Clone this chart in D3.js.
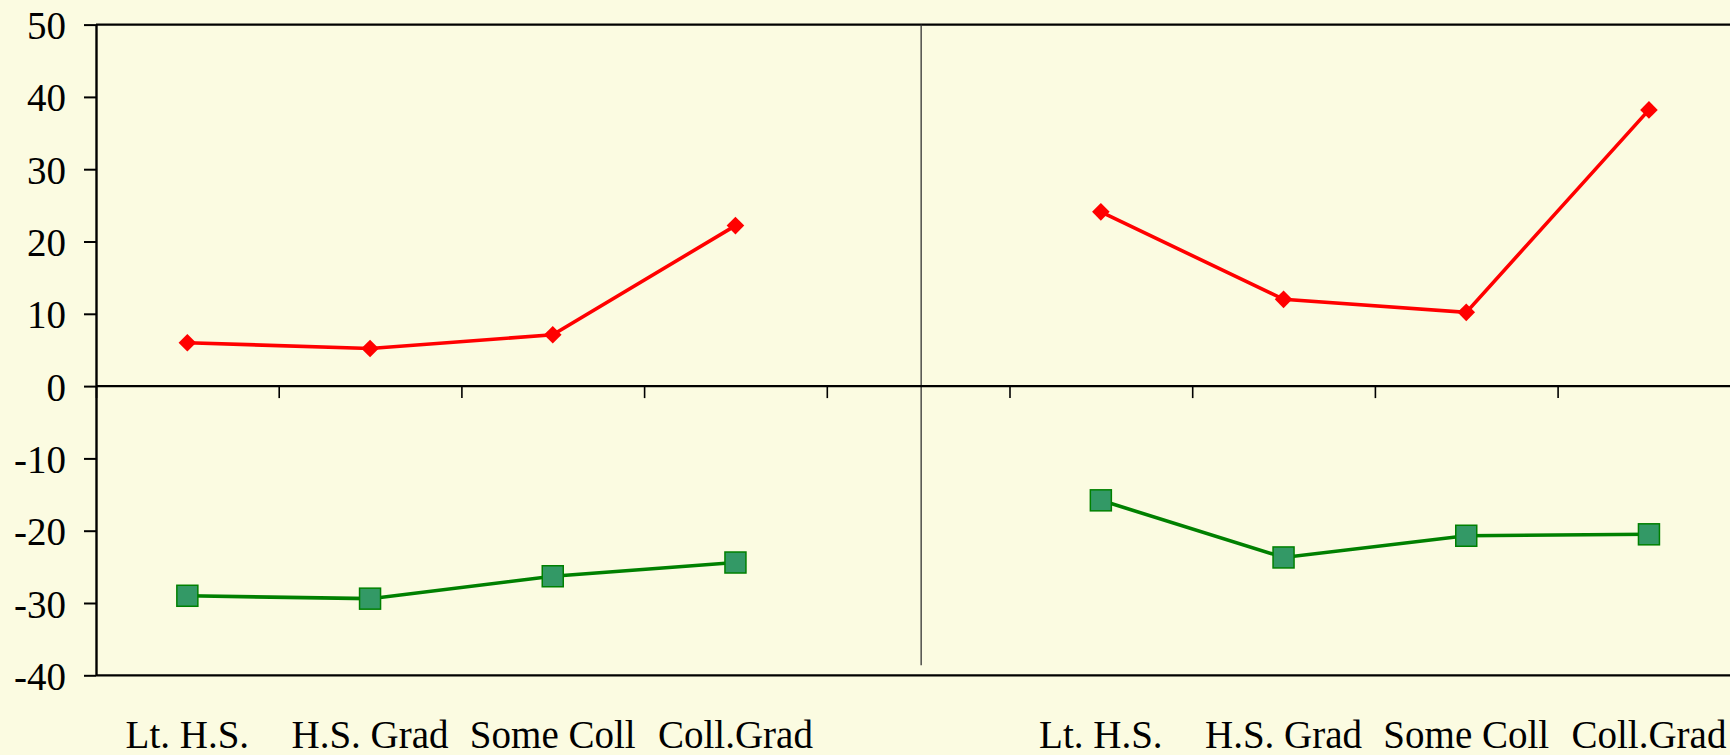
<!DOCTYPE html>
<html>
<head>
<meta charset="utf-8">
<script src="https://cdn.jsdelivr.net/npm/d3@7"></script>
<style>
	body { margin: 0; background: #fbfbe1; }
	svg { display: block; font-family: "Liberation Serif", "Times New Roman", serif; }
	.axis text { font-size: 39px; fill: #000; font-family: "Liberation Serif", "Times New Roman", serif; }
	.axis line, .axis path { stroke: #000; }
</style>
</head>
<body>
<div id="chart"></div>
<script>
const categories = ["Lt. H.S.", "H.S. Grad", "Some Coll", "Coll.Grad"];
const redLeft = [6.0, 5.2, 7.1, 22.2];
const greenLeft = [-29.0, -29.4, -26.3, -24.4];
const redRight = [24.1, 12.0, 10.2, 38.2];
const greenRight = [-15.8, -23.7, -20.7, -20.5];
const yTicks = [50, 40, 30, 20, 10, 0, -10, -20, -30, -40];

// two panels share one category axis, with one empty slot between them
const slots = 9;
const leftStart = 0, gapSlot = 4, rightStart = 5;

const width = 1730;
const height = 755;
const svg = d3.select("#chart")
	.append("svg")
	.attr("width", width)
	.attr("height", height);

const xscale = d3.scaleLinear()
	.domain([0, slots])
	.range([96, 96 + slots * 182.7]);

const yscale = d3.scaleLinear()
	.domain([-40, 50])
	.range([675.3, 24.6]);

const y_axis = d3.axisLeft()
	.scale(yscale)
	.tickValues(yTicks)
	.tickSize(12)
	.tickPadding(18)
	.tickSizeOuter(0)
	.tickFormat(d => String(d));

const x_axis = d3.axisBottom()
	.scale(xscale)
	.tickValues(d3.range(0, slots + 1))
	.tickSize(12)
	.tickSizeOuter(0)
	.tickFormat("");

// frame lines: top and bottom
[50, -40].forEach(v => {
	svg.append("line")
		.attr("x1", xscale(0)).attr("x2", width)
		.attr("y1", yscale(v)).attr("y2", yscale(v))
		.attr("stroke", "#000").attr("stroke-width", 2.2);
});

// divider between the panels
svg.append("line")
	.attr("x1", xscale(gapSlot + 0.5) + 3).attr("x2", xscale(gapSlot + 0.5) + 3)
	.attr("y1", yscale(50)).attr("y2", yscale(-40) - 10)
	.attr("stroke", "#333").attr("stroke-width", 1.3);

const xg = svg.append("g")
	.attr("class", "axis")
	.attr("transform", "translate(0," + yscale(0) + ")")
	.call(x_axis);
xg.select(".domain").attr("stroke-width", 2.2).attr("d", "M" + xscale(0) + ",0H" + width);
xg.selectAll(".tick line").attr("stroke-width", 1.6);

const yg = svg.append("g")
	.attr("class", "axis")
	.attr("transform", "translate(" + xscale(0) + ",0)")
	.call(y_axis)
	.attr("font-family", null)
	.attr("font-size", null);
yg.select(".domain").attr("stroke-width", 2.4);
yg.selectAll(".tick line").attr("stroke-width", 2);
yg.selectAll(".tick text").attr("dy", "0.36em");

// category labels under each panel
[leftStart, rightStart].forEach(start => {
	svg.append("g")
		.selectAll("text")
		.data(categories)
		.join("text")
		.attr("x", (d, i) => xscale(start + i + 0.5))
		.attr("y", yscale(-40) + 73)
		.attr("text-anchor", "middle")
		.attr("font-size", 39)
		.text(d => d);
});

const line = d3.line()
	.x(d => xscale(d.slot + 0.5))
	.y(d => yscale(d.value));

function series(values, start) {
	return values.map((v, i) => ({slot: start + i, value: v}));
}

function drawRed(values, start) {
	const pts = series(values, start);
	svg.append("path")
		.attr("d", line(pts))
		.attr("fill", "none")
		.attr("stroke", "#ff0000")
		.attr("stroke-width", 3.6);
	svg.append("g")
		.selectAll("path")
		.data(pts)
		.join("path")
		.attr("transform", d => "translate(" + xscale(d.slot + 0.5) + "," + yscale(d.value) + ")")
		.attr("d", "M0,-8.8L8.8,0L0,8.8L-8.8,0Z")
		.attr("fill", "#ff0000");
}

function drawGreen(values, start) {
	const pts = series(values, start);
	svg.append("path")
		.attr("d", line(pts))
		.attr("fill", "none")
		.attr("stroke", "#008000")
		.attr("stroke-width", 3.6);
	svg.append("g")
		.selectAll("rect")
		.data(pts)
		.join("rect")
		.attr("x", d => xscale(d.slot + 0.5) - 10.5)
		.attr("y", d => yscale(d.value) - 10.5)
		.attr("width", 21)
		.attr("height", 21)
		.attr("fill", "#339966")
		.attr("stroke", "#008000")
		.attr("stroke-width", 1.5);
}

drawRed(redLeft, leftStart);
drawRed(redRight, rightStart);
drawGreen(greenLeft, leftStart);
drawGreen(greenRight, rightStart);
</script>
</body>
</html>
